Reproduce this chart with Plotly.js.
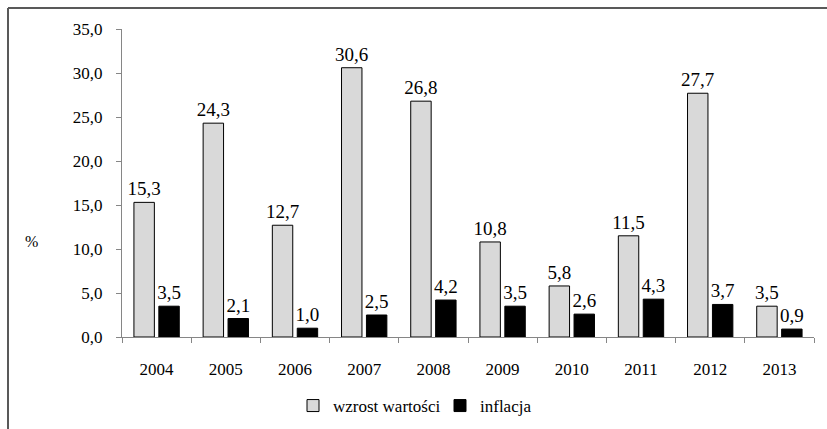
<!DOCTYPE html>
<html>
<head>
<meta charset="utf-8">
<script src="https://cdn.plot.ly/plotly-3.0.1.min.js"></script>
<style>html,body{margin:0;padding:0;background:#fff;}#chart{width:827px;height:429px;}</style>
</head>
<body>
<div id="chart"></div>
<script>
var years = ['2004','2005','2006','2007','2008','2009','2010','2011','2012','2013'];
var wzrost = [15.3, 24.3, 12.7, 30.6, 26.8, 10.8, 5.8, 11.5, 27.7, 3.5];
var inflacja = [3.5, 2.1, 1.0, 2.5, 4.2, 3.5, 2.6, 4.3, 3.7, 0.9];
var yTicks = [0, 5, 10, 15, 20, 25, 30, 35];

var FONT = 'Liberation Serif';
var L = 122, R = 13, T = 29, B = 92, W = 827, H = 429;
var pw = W - L - R, ph = H - T - B;
function px(x){ return (x - L) / pw; }
function py(y){ return (H - B - y) / ph; }

var traces = [
  {type:'bar', name:'wzrost wartości', x:years, y:wzrost, legend:'legend',
   marker:{color:'#d9d9d9', line:{color:'#000', width:1}},
   texttemplate:'%{y:.1f}', textposition:'outside', cliponaxis:false, constraintext:'none',
   textfont:{family:FONT, size:19, color:'#000'}},
  {type:'bar', name:'inflacja', x:years, y:inflacja, legend:'legend2',
   marker:{color:'#000', line:{color:'#000', width:1}},
   texttemplate:'%{y:.1f}', textposition:'outside', cliponaxis:false, constraintext:'none',
   textfont:{family:FONT, size:19, color:'#000'}}
];

var legBase = {orientation:'h', xanchor:'left', y:py(424), yanchor:'bottom',
               font:{family:FONT, size:17, color:'#000'}, itemwidth:30,
               bgcolor:'rgba(0,0,0,0)', borderwidth:0};

var layout = {
  width:W, height:H,
  margin:{l:L, r:R, t:T, b:B, pad:0, autoexpand:false},
  paper_bgcolor:'#fff', plot_bgcolor:'#fff',
  separators:', ',
  font:{family:FONT, color:'#000', size:16},
  barmode:'group', bargap:0.28, bargroupgap:0.18,
  showlegend:true,
  legend:Object.assign({}, legBase, {x:px(293)}),
  legend2:Object.assign({}, legBase, {x:px(440)}),
  xaxis:{type:'category', showline:true, linecolor:'#868686', linewidth:1, automargin:false,
         ticks:'outside', tickson:'boundaries', ticklen:5, tickcolor:'#868686',
         ticklabelstandoff:17, tickfont:{family:FONT, size:17, color:'#000'},
         showgrid:false, zeroline:false, fixedrange:true},
  yaxis:{range:[0,35], tickvals:yTicks, tickformat:'.1f', showline:true, automargin:false,
         linecolor:'#868686', linewidth:1, ticks:'outside', ticklen:5, tickcolor:'#868686',
         ticklabelstandoff:10, tickfont:{family:FONT, size:17, color:'#000'},
         showgrid:false, zeroline:false, fixedrange:true},
  annotations:[{text:'%', xref:'paper', yref:'paper', x:px(31), y:py(241),
                showarrow:false, xanchor:'center', yanchor:'middle',
                font:{family:FONT, size:16, color:'#000'}}],
  shapes:[
    {type:'line', xref:'paper', yref:'paper', x0:px(8), x1:px(8), y0:py(8), y1:py(H+5),
     line:{color:'#595959', width:2}},
    {type:'line', xref:'paper', yref:'paper', x0:px(8), x1:px(W+5), y0:py(8), y1:py(8),
     line:{color:'#595959', width:2}}
  ]
};

Plotly.newPlot('chart', traces, layout, {displayModeBar:false, staticPlot:true});
</script>
</body>
</html>
